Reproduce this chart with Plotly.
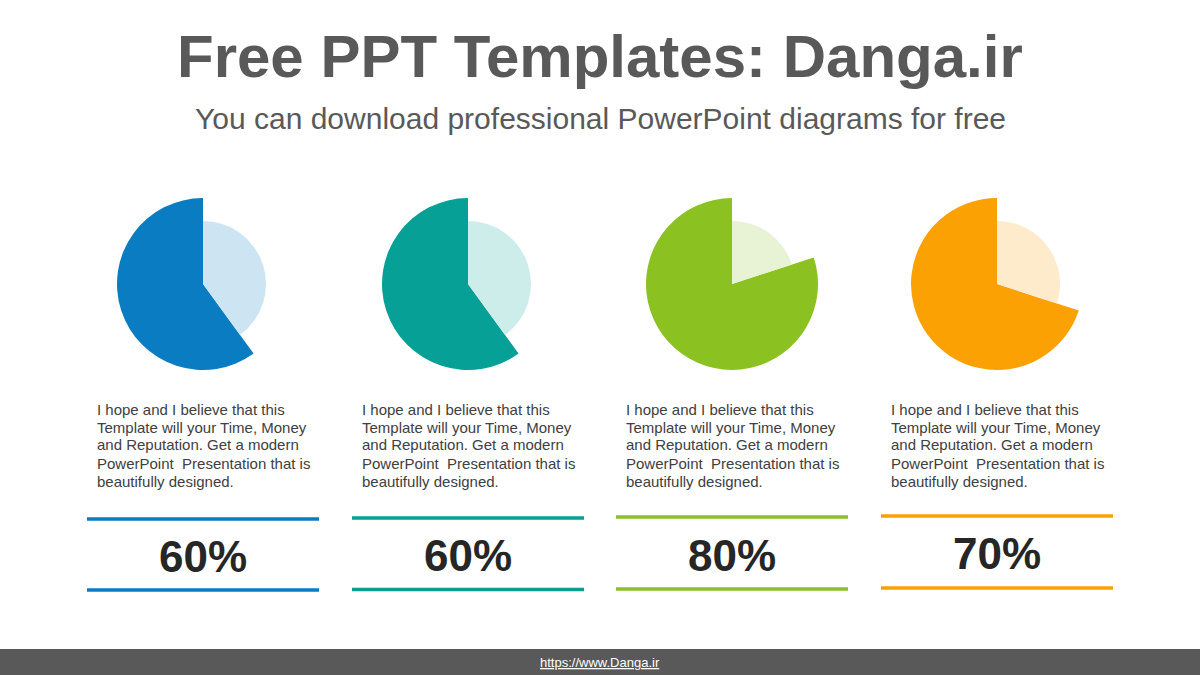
import plotly.graph_objects as go

# ---- data ----
labels = ["60%", "60%", "80%", "70%"]
values = [60, 60, 80, 70]
dark_colors = ["#0A7CC1", "#07A096", "#8CC122", "#FBA104"]
light_colors = ["#CDE5F3", "#CDEDEA", "#E8F3D5", "#FEEBCC"]
body_lines = ["I hope and I believe that this",
              "Template will your Time, Money",
              "and Reputation. Get a modern",
              "PowerPoint  Presentation that is",
              "beautifully designed."]
title = "Free PPT Templates: Danga.ir"
subtitle = "You can download professional PowerPoint diagrams for free"
footer = "https://www.Danga.ir"

W, H = 1200, 675
centers_x = [203, 468, 732, 997]
cy = 284
R_big, R_small = 86, 63
top_lines = [519, 518, 517, 516]
bot_lines = [590, 589.5, 589, 588]
pct_y = [556, 555.5, 555, 553]
FONT = "Liberation Sans, Arial"

def px(x):
    return x / W

def py(y):
    return 1 - y / H

fig = go.Figure()
shapes = []
annotations = []
for i, v in enumerate(values):
    cx = centers_x[i]
    rest = 100 - v
    fig.add_trace(go.Pie(
        values=[rest, v], sort=False, direction="clockwise", rotation=0,
        marker=dict(colors=["rgba(0,0,0,0)", dark_colors[i]], line=dict(width=0)),
        textinfo="none", hoverinfo="skip", showlegend=False,
        domain=dict(x=[px(cx - R_big), px(cx + R_big)], y=[py(cy + R_big), py(cy - R_big)]),
    ))
    fig.add_trace(go.Pie(
        values=[rest, v], sort=False, direction="clockwise", rotation=0,
        marker=dict(colors=[light_colors[i], "rgba(0,0,0,0)"], line=dict(width=0)),
        textinfo="none", hoverinfo="skip", showlegend=False,
        domain=dict(x=[px(cx - R_small), px(cx + R_small)], y=[py(cy + R_small), py(cy - R_small)]),
    ))
    for k, line in enumerate(body_lines):
        annotations.append(dict(
            text=line, x=px(cx - 108), y=py(409 + 18 * k), xref="paper", yref="paper",
            xanchor="left", yanchor="middle", align="left", showarrow=False,
            font=dict(family=FONT, size=15, color="#404040"),
        ))
    for ly in (top_lines[i], bot_lines[i]):
        shapes.append(dict(type="line", xref="paper", yref="paper",
                           x0=px(cx - 116), x1=px(cx + 116), y0=py(ly), y1=py(ly),
                           line=dict(color=dark_colors[i], width=3.5)))
    annotations.append(dict(
        text="<b>" + labels[i] + "</b>", x=px(cx), y=py(pct_y[i]), xref="paper", yref="paper",
        xanchor="center", yanchor="middle", showarrow=False,
        font=dict(family=FONT, size=44, color="#262626"),
    ))

annotations.append(dict(text="<b>" + title + "</b>", x=0.5, y=py(57), xref="paper", yref="paper",
                        xanchor="center", yanchor="middle", showarrow=False,
                        font=dict(family=FONT, size=60, color="#595959")))
annotations.append(dict(text=subtitle, x=0.5, y=py(119), xref="paper", yref="paper",
                        xanchor="center", yanchor="middle", showarrow=False,
                        font=dict(family=FONT, size=30, color="#595959")))
shapes.append(dict(type="rect", xref="paper", yref="paper", x0=0, x1=1, y0=0, y1=py(649),
                   fillcolor="#595959", line=dict(width=0), layer="below"))
annotations.append(dict(text="<u>" + footer + "</u>", x=0.5, y=py(662), xref="paper", yref="paper",
                        xanchor="center", yanchor="middle", showarrow=False,
                        font=dict(family=FONT, size=13, color="#FFFFFF")))

fig.update_layout(
    width=W, height=H, margin=dict(l=0, r=0, t=0, b=0),
    paper_bgcolor="white", plot_bgcolor="white",
    shapes=shapes, annotations=annotations, showlegend=False,
)
fig.write_html("out.html", config={"displayModeBar": False},
               post_script="document.body.style.margin='0';document.body.style.overflow='hidden';")
